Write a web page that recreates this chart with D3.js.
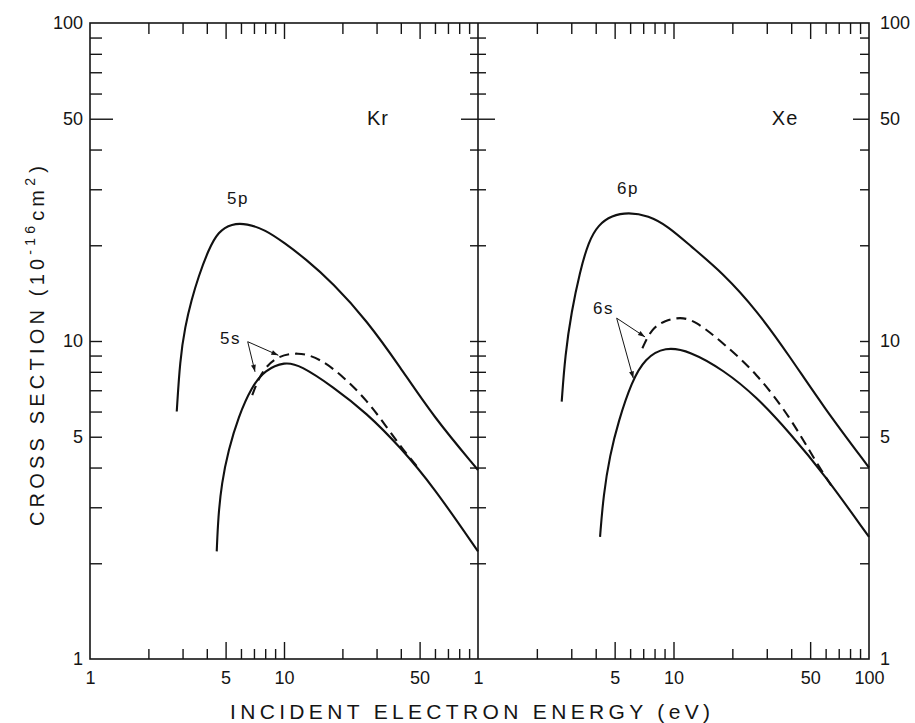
<!DOCTYPE html>
<html>
<head>
<meta charset="utf-8">
<script src="https://cdn.jsdelivr.net/npm/d3@7"></script>
<style>
  body { margin: 0; background: #fff; }
  text { font-family: "Liberation Sans", Arial, sans-serif; fill: #151515; }
</style>
</head>
<body>
<svg id="chart" width="915" height="723"></svg>
<script>
// values: [energy (eV), cross section (1e-16 cm^2)]
const kr5p = [[2.8, 6.0], [2.91, 8.71], [3.09, 11.1], [3.34, 13.5], [3.62, 15.9], [4.07, 19.3], [4.58, 22.1],
    [5.38, 23.4], [6.43, 23.4], [7.98, 22.4], [10.1, 20.3], [12.8, 18.2], [17.9, 15.2], [26.7, 11.6],
    [39.6, 8.3], [58.9, 5.78], [100, 3.93]];
const kr5s = [[4.5, 2.18], [4.58, 2.8], [4.77, 3.57], [5.17, 4.54], [5.82, 5.78], [6.81, 7.18], [7.98, 8.11],
    [10.1, 8.61], [12.1, 8.4], [17.9, 7.18], [26.7, 5.93], [39.6, 4.65], [58.9, 3.48], [100, 2.18]];
const kr5sDashed = [[6.86, 6.76], [7.6, 7.95], [9.0, 8.92], [11.8, 9.25], [15.3, 8.82], [20.2, 7.73],
    [26.7, 6.52], [33.8, 5.37], [41.2, 4.54], [50.2, 3.93]];
const xe6p = [[2.68, 6.45], [2.79, 9.03], [3.01, 12.4], [3.32, 16.5], [3.67, 20.5], [4.12, 23.2], [4.83, 24.8],
    [5.87, 25.4], [7.43, 24.8], [9.41, 22.9], [12.1, 20.0], [18.0, 16.3], [26.6, 12.5], [39.4, 8.93],
    [58.4, 6.21], [100, 4.0]];
const xe6s = [[4.21, 2.42], [4.38, 3.28], [4.73, 4.38], [5.22, 5.57], [6.11, 7.45], [7.15, 8.82], [9.05, 9.6],
    [12.1, 9.3], [18.0, 8.11], [26.6, 6.68], [39.4, 5.13], [58.4, 3.84], [100, 2.42]];
const xe6sDashed = [[6.93, 9.49], [7.73, 10.96], [9.05, 11.6], [10.8, 11.9], [12.9, 11.6], [18.0, 9.84],
    [26.6, 7.92], [39.4, 5.78], [53.9, 4.13], [66, 3.42]];

const energyMinorTicks = [2, 3, 4, 6, 7, 8, 9, 20, 30, 40, 60, 70, 80, 90];
const energyMajorTicks = [5, 10, 50];
const krEnergyLabels = [1, 5, 10, 50];
const xeEnergyLabels = [1, 5, 10, 50, 100];
const sigmaMinorTicks = [2, 3, 4, 5, 6, 7, 8, 9, 10, 20, 30, 40, 60, 70, 80, 90];
const sigmaMajorTicks = [50];
const sigmaLabels = [1, 5, 10, 50, 100];

// annotations in data units: [energy, sigma]
const krNotes = { gas: 'Kr', gasAt: [30.5, 50.4], p: '5p', pAt: [5.79, 28.1], s: '5s', sAt: [5.3, 10.2],
    tail: [6.5, 9.95], heads: [[7.09, 8.0], [9.35, 9.02]] };
const xeNotes = { gas: 'Xe', gasAt: [37.2, 50.4], p: '6p', pAt: [5.85, 30.3], s: '6s', sAt: [4.38, 12.7],
    tail: [5.12, 11.8], heads: [[7.15, 10.3], [6.23, 7.63]] };

const svg = d3.select('#chart');
const frameTop = 23, frameBottom = 659, frameLeft = 90, frameMid = 478, frameRight = 869;

const y = d3.scaleLog().domain([1, 100]).range([frameBottom, frameTop]);
const xKr = d3.scaleLog().domain([1, 100]).range([frameLeft, frameMid]);
const xXe = d3.scaleLog().domain([1, 100]).range([frameMid, frameRight]);

svg.append('defs').append('marker')
    .attr('id', 'arrow')
    .attr('viewBox', '0 0 10 10')
    .attr('refX', 10).attr('refY', 5)
    .attr('markerUnits', 'userSpaceOnUse')
    .attr('markerWidth', 9).attr('markerHeight', 7)
    .attr('orient', 'auto')
    .append('path')
    .attr('d', 'M0,1.5 L10,5 L0,8.5 Z')
    .attr('fill', '#151515');

function tickGroup(axis, tx, ty) {
    svg.append('g')
    .attr('transform', `translate(${tx}, ${ty})`)
    .attr('color', '#151515')
    .call(axis)
    .call(g => g.select('.domain').remove())
    .call(g => g.selectAll('line').attr('stroke-width', 1.4));
}

function renderEnergyTicks(x) {
    tickGroup(d3.axisTop(x).tickValues(energyMinorTicks).tickSize(10).tickFormat(''), 0, frameBottom);
    tickGroup(d3.axisTop(x).tickValues(energyMajorTicks).tickSize(17).tickFormat(''), 0, frameBottom);
    tickGroup(d3.axisBottom(x).tickValues(energyMinorTicks).tickSize(11).tickFormat(''), 0, frameTop);
    tickGroup(d3.axisBottom(x).tickValues(energyMajorTicks).tickSize(16).tickFormat(''), 0, frameTop);
}

function renderEnergyLabels(x, values) {
    svg.append('g')
    .attr('transform', `translate(0, ${frameBottom})`)
    .call(d3.axisBottom(x).tickValues(values).tickSize(0).tickPadding(12).tickFormat(d3.format('d')))
    .call(g => g.select('.domain').remove())
    .call(g => g.selectAll('text').attr('font-size', 18).attr('fill', '#151515'));
}

function renderSigmaAxes() {
    tickGroup(d3.axisRight(y).tickValues(sigmaMinorTicks).tickSize(12).tickFormat(''), frameLeft, 0);
    tickGroup(d3.axisRight(y).tickValues(sigmaMajorTicks).tickSize(23).tickFormat(''), frameLeft, 0);
    [d3.axisLeft, d3.axisRight].forEach((axis) => {
        tickGroup(axis(y).tickValues(sigmaMinorTicks).tickSize(8).tickFormat(''), frameMid, 0);
        tickGroup(axis(y).tickValues(sigmaMajorTicks).tickSize(17).tickFormat(''), frameMid, 0);
    });
    tickGroup(d3.axisLeft(y).tickValues(sigmaMinorTicks).tickSize(9).tickFormat(''), frameRight, 0);
    tickGroup(d3.axisLeft(y).tickValues(sigmaMajorTicks).tickSize(16).tickFormat(''), frameRight, 0);

    svg.append('g')
    .attr('transform', `translate(${frameLeft}, 0)`)
    .call(d3.axisLeft(y).tickValues(sigmaLabels).tickSize(0).tickPadding(7).tickFormat(d3.format('d')))
    .call(g => g.select('.domain').remove())
    .call(g => g.selectAll('text').attr('font-size', 18).attr('fill', '#151515'));

    svg.append('g')
    .attr('transform', `translate(${frameRight}, 0)`)
    .call(d3.axisRight(y).tickValues(sigmaLabels).tickSize(0).tickPadding(11).tickFormat(d3.format('d')))
    .call(g => g.select('.domain').remove())
    .call(g => g.selectAll('text').attr('font-size', 18).attr('fill', '#151515'));
}

function renderPanel(x, pCurve, sCurve, sDashed, notes) {
    const line = d3.line()
    .x(d => x(d[0]))
    .y(d => y(d[1]))
    .curve(d3.curveBasis);

    [pCurve, sCurve].forEach((curve) => {
        svg.append('path')
        .datum(curve)
        .attr('d', line)
        .attr('fill', 'none')
        .attr('stroke', '#111')
        .attr('stroke-width', 2.1);
    });

    svg.append('path')
    .datum(sDashed)
    .attr('d', line)
    .attr('fill', 'none')
    .attr('stroke', '#111')
    .attr('stroke-width', 2.1)
    .attr('stroke-dasharray', '10,6');

    svg.append('text')
    .attr('x', x(notes.gasAt[0])).attr('y', y(notes.gasAt[1]))
    .attr('text-anchor', 'middle').attr('dy', '0.35em')
    .attr('font-size', 20)
    .attr('letter-spacing', 1)
    .text(notes.gas);

    [[notes.p, notes.pAt], [notes.s, notes.sAt]].forEach(([label, at]) => {
        svg.append('text')
        .attr('x', x(at[0])).attr('y', y(at[1]))
        .attr('text-anchor', 'middle').attr('dy', '0.35em')
        .attr('font-size', 17)
        .attr('letter-spacing', 1.5)
        .text(label);
    });

    notes.heads.forEach((head) => {
        svg.append('line')
        .attr('x1', x(notes.tail[0])).attr('y1', y(notes.tail[1]))
        .attr('x2', x(head[0])).attr('y2', y(head[1]))
        .attr('stroke', '#151515')
        .attr('stroke-width', 1)
        .attr('marker-end', 'url(#arrow)');
    });
}

renderEnergyTicks(xKr);
renderEnergyTicks(xXe);
renderEnergyLabels(xKr, krEnergyLabels);
renderEnergyLabels(xXe, xeEnergyLabels);
renderSigmaAxes();

svg.append('rect')
.attr('x', frameLeft).attr('y', frameTop)
.attr('width', frameRight - frameLeft).attr('height', frameBottom - frameTop)
.attr('fill', 'none').attr('stroke', '#151515').attr('stroke-width', 1.6);
svg.append('line')
.attr('x1', frameMid).attr('x2', frameMid).attr('y1', frameTop).attr('y2', frameBottom)
.attr('stroke', '#151515').attr('stroke-width', 1.6);

renderPanel(xKr, kr5p, kr5s, kr5sDashed, krNotes);
renderPanel(xXe, xe6p, xe6s, xe6sDashed, xeNotes);

svg.append('text')
.attr('x', 470).attr('y', 719)
.attr('text-anchor', 'middle')
.attr('font-size', 21)
.attr('textLength', 480)
.attr('lengthAdjust', 'spacing')
.text('INCIDENT ELECTRON ENERGY (eV)');

const yTitle = svg.append('text')
.attr('transform', 'translate(44, 344) rotate(-90)')
.attr('text-anchor', 'middle')
.attr('font-size', 20)
.attr('letter-spacing', 4.2);
yTitle.append('tspan').text('CROSS SECTION (10');
yTitle.append('tspan').attr('dy', -9).attr('font-size', 14).text('-16');
yTitle.append('tspan').attr('dy', 9).attr('dx', 1).text('cm');
yTitle.append('tspan').attr('dy', -9).attr('font-size', 14).text('2');
yTitle.append('tspan').attr('dy', 9).attr('dx', 1).text(')');
</script>
</body>
</html>
